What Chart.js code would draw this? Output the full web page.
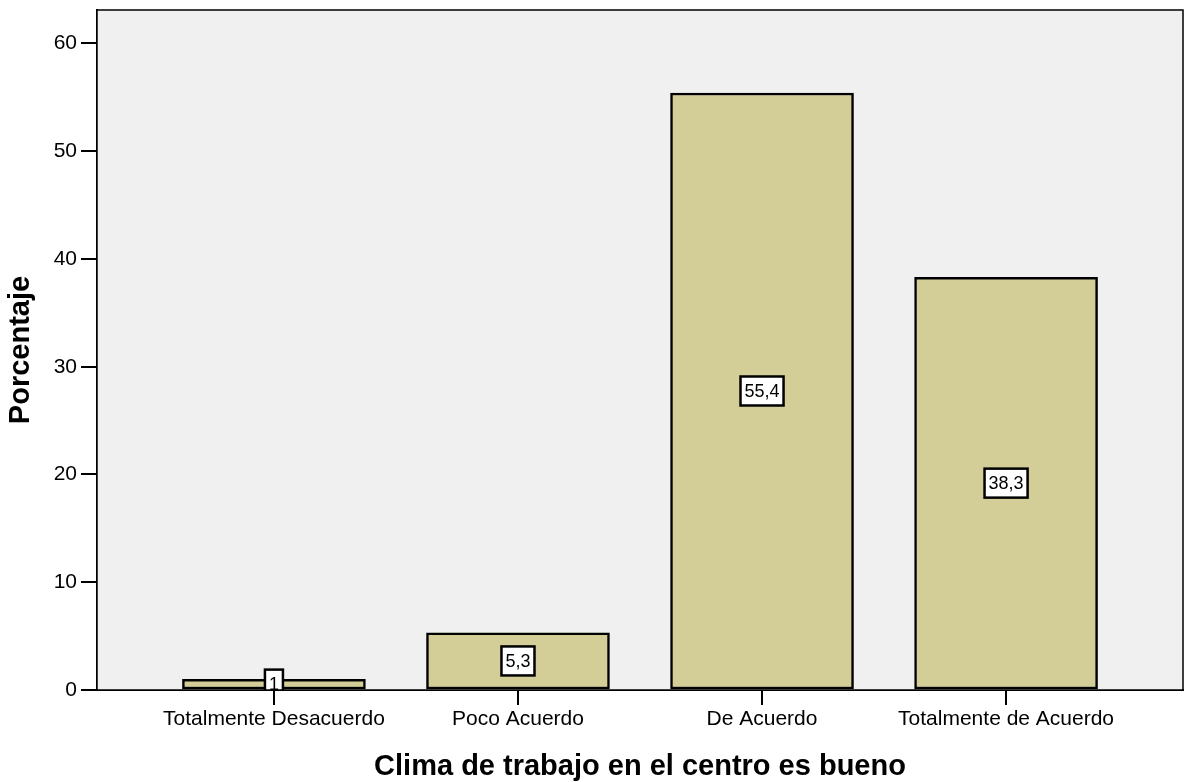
<!DOCTYPE html>
<html lang="es">
<head>
<meta charset="utf-8">
<title>Clima de trabajo</title>
<style>
  body { margin: 0; background: #fff; }
  #wrap { width: 1186px; height: 782px; }
</style>
</head>
<body>
<div id="wrap"><canvas id="myChart" width="1186" height="782"></canvas></div>
<script src="https://cdn.jsdelivr.net/npm/chart.js@4"></script>
<script>
let categories = ['Totalmente Desacuerdo', 'Poco Acuerdo', 'De Acuerdo', 'Totalmente de Acuerdo'];
let porcentajes = [1, 5.3, 55.4, 38.3];
let yTicks = [0, 10, 20, 30, 40, 50, 60];
let xTitle = 'Clima de trabajo en el centro es bueno';
let yTitle = 'Porcentaje';

const FONT = 'Liberation Sans, Arial, sans-serif';

// fondo gris y marco del area del grafico
const plotBox = {
  id: 'plotBox',
  beforeDatasetsDraw(chart) {
    const a = chart.chartArea, ctx = chart.ctx;
    ctx.save();
    ctx.fillStyle = '#f0f0f0';
    ctx.fillRect(a.left, a.top, a.right - a.left, a.bottom - a.top);
    ctx.restore();
  },
  afterDraw(chart) {
    const a = chart.chartArea, ctx = chart.ctx;
    ctx.save();
    ctx.strokeStyle = '#000';
    ctx.lineWidth = 1.5;
    ctx.strokeRect(a.left, a.top, a.right - a.left, a.bottom - a.top);
    // titulo del eje x
    ctx.fillStyle = '#000';
    ctx.font = 'bold 29px ' + FONT;
    ctx.textAlign = 'center';
    ctx.textBaseline = 'middle';
    ctx.fillText(xTitle, (a.left + a.right) / 2, 767);
    ctx.restore();
  }
};

// etiquetas de valor en medio de cada barra
const barLabels = {
  id: 'barLabels',
  afterDatasetsDraw(chart) {
    const ctx = chart.ctx, a = chart.chartArea;
    const meta = chart.getDatasetMeta(0);
    ctx.save();
    ctx.beginPath();
    ctx.rect(a.left, a.top, a.right - a.left, a.bottom - a.top);
    ctx.clip();
    ctx.font = '18px ' + FONT;
    ctx.textAlign = 'center';
    ctx.textBaseline = 'middle';
    meta.data.forEach((bar, i) => {
      const txt = String(porcentajes[i]).replace('.', ',');
      const cy = (bar.y + bar.base) / 2;
      const w = ctx.measureText(txt).width + 8;
      const h = 29;
      ctx.fillStyle = '#fff';
      ctx.fillRect(bar.x - w / 2, cy - h / 2, w, h);
      ctx.strokeStyle = '#000';
      ctx.lineWidth = 2.5;
      ctx.strokeRect(bar.x - w / 2, cy - h / 2, w, h);
      ctx.fillStyle = '#000';
      ctx.fillText(txt, bar.x, cy + 1);
    });
    ctx.restore();
  }
};

let ctx = document.getElementById('myChart').getContext('2d');
let chart = new Chart(ctx, {
  type: 'bar',
  data: {
    datasets: [{
      data: porcentajes.map((v, i) => ({ x: i, y: v })),
      backgroundColor: '#d3ce97',
      borderColor: '#000',
      borderWidth: 2.5,
      borderSkipped: false,
      barThickness: 183
    }]
  },
  options: {
    responsive: false,
    animation: false,
    layout: { padding: { top: 10, right: 3, left: 0, bottom: 0 } },
    plugins: { legend: { display: false }, tooltip: { enabled: false } },
    scales: {
      x: {
        type: 'linear',
        offset: false,
        min: -0.725,
        max: 3.725,
        afterBuildTicks(scale) {
          scale.ticks = categories.map((c, i) => ({ value: i }));
        },
        afterFit(scale) { scale.height = 92; },
        ticks: {
          color: '#000',
          font: { family: FONT, size: 21 },
          padding: 2,
          maxRotation: 0,
          autoSkip: false,
          callback: (v) => categories[v]
        },
        grid: { offset: false, drawOnChartArea: false, drawTicks: true, tickLength: 15, color: '#000', lineWidth: 2 },
        border: { display: true, color: '#000', width: 2 }
      },
      y: {
        min: 0,
        max: 63.1,
        afterBuildTicks(scale) {
          scale.ticks = yTicks.map(v => ({ value: v }));
        },
        afterFit(scale) {
          scale.width = 97;
          scale.paddingTop = 0;
          scale.paddingBottom = 0;
        },
        ticks: {
          color: '#000',
          font: { family: FONT, size: 21 },
          padding: 4
        },
        grid: { drawOnChartArea: false, drawTicks: true, tickLength: 16, color: '#000', lineWidth: 2 },
        border: { display: true, color: '#000', width: 2 },
        title: {
          display: true,
          text: yTitle,
          color: '#000',
          font: { family: FONT, size: 29, weight: 'bold' },
          padding: { top: 4, bottom: 0 }
        }
      }
    }
  },
  plugins: [plotBox, barLabels]
});
</script>
</body>
</html>
